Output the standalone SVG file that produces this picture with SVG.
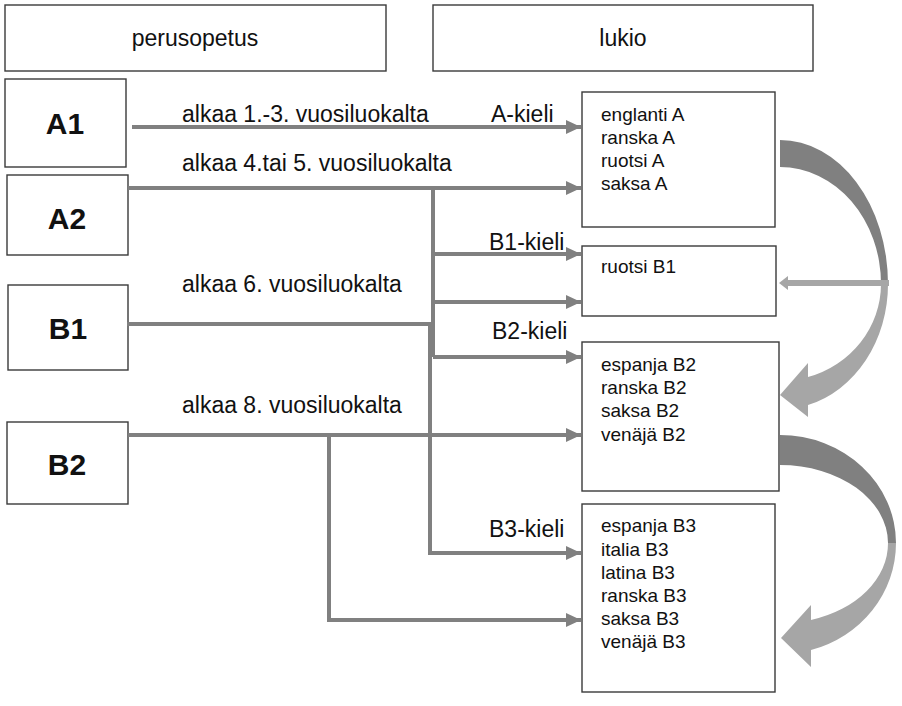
<svg xmlns="http://www.w3.org/2000/svg" width="902" height="706" viewBox="0 0 902 706">
<style>
.box{fill:#fff;stroke:#3a3a3a;stroke-width:1.4}
.t{font-family:"Liberation Sans",Arial,sans-serif;fill:#111}
.lab{font-size:23px}
.big{font-size:30px;font-weight:bold;text-anchor:middle}
.small{font-size:19px}
.con{fill:none;stroke:#808080;stroke-width:4}
</style>
<defs>
<marker id="ah" markerUnits="userSpaceOnUse" markerWidth="16" markerHeight="16" refX="15" refY="7" orient="auto">
<path d="M0,0 L15,7 L0,14 Z" fill="#808080"/>
</marker>
</defs>
<rect width="902" height="706" fill="#fff"/>

<g id="perusopetus"><rect class="box" x="5" y="5" width="381" height="66"/><text class="t lab" x="195" y="46" text-anchor="middle">perusopetus</text></g>
<g id="lukio"><rect class="box" x="433" y="5" width="380" height="66"/><text class="t lab" x="623" y="46" text-anchor="middle">lukio</text></g>

<g id="A1"><rect class="box" x="5" y="79" width="121" height="88"/><text class="t big" x="65" y="134">A1</text></g>
<g id="A2"><rect class="box" x="7" y="175" width="121" height="80"/><text class="t big" x="67" y="229">A2</text></g>
<g id="B1"><rect class="box" x="8" y="285" width="120" height="85"/><text class="t big" x="68" y="339">B1</text></g>
<g id="B2"><rect class="box" x="7" y="422" width="121" height="82"/><text class="t big" x="67" y="475">B2</text></g>

<g id="Akieli"><rect class="box" x="582" y="92" width="193" height="135"/>
<text class="t small" x="601" y="121">englanti A</text>
<text class="t small" x="601" y="144">ranska A</text>
<text class="t small" x="601" y="167">ruotsi A</text>
<text class="t small" x="601" y="190">saksa A</text></g>
<g id="B1kieli"><rect class="box" x="582" y="246" width="194" height="70"/>
<text class="t small" x="601" y="273">ruotsi B1</text></g>
<g id="B2kieli"><rect class="box" x="582" y="342" width="197" height="149"/>
<text class="t small" x="601" y="371">espanja B2</text>
<text class="t small" x="601" y="394">ranska B2</text>
<text class="t small" x="601" y="417">saksa B2</text>
<text class="t small" x="601" y="441">venäjä B2</text></g>
<g id="B3kieli"><rect class="box" x="582" y="504" width="193" height="188"/>
<text class="t small" x="601" y="532">espanja B3</text>
<text class="t small" x="601" y="556">italia B3</text>
<text class="t small" x="601" y="579">latina B3</text>
<text class="t small" x="601" y="602">ranska B3</text>
<text class="t small" x="601" y="625">saksa B3</text>
<text class="t small" x="601" y="648">venäjä B3</text></g>

<g id="connectors">
<path class="con" d="M132,127 H581" marker-end="url(#ah)"/>
<path class="con" d="M128,188 H581" marker-end="url(#ah)"/>
<path class="con" d="M433,188 V357"/>
<path class="con" d="M433,254 H581" marker-end="url(#ah)"/>
<path class="con" d="M433,302 H581" marker-end="url(#ah)"/>
<path class="con" d="M433,357 H581" marker-end="url(#ah)"/>
<path class="con" d="M127,324 H430 V553 H581" marker-end="url(#ah)"/>
<path class="con" d="M128,435 H581" marker-end="url(#ah)"/>
<path class="con" d="M329,435 V620 H581" marker-end="url(#ah)"/>
<!-- curved arrow 1 -->
<path d="M780,140 A108,144 0 0 1 888,284 L881,284 A101,117 0 0 0 780,167 Z" fill="#808080"/>
<path d="M888,284 A108,125 0 0 1 808,405 L808,417 L780,395 L808,363 L808,377 A101,97 0 0 0 881,284 Z" fill="#a6a6a6"/>
<path d="M889,283 H788" fill="none" stroke="#a6a6a6" stroke-width="6"/>
<path d="M779,283 L788,276 L788,290 Z" fill="#a6a6a6"/>
<!-- curved arrow 2 -->
<path d="M780,435 A116,108 0 0 1 896,543 L888,543 A108,78 0 0 0 780,465 Z" fill="#808080"/>
<path d="M896,543 A116,111 0 0 1 811,650 L811,667 L781,638 L811,605 L811,620 A108,80 0 0 0 888,543 Z" fill="#a6a6a6"/>
</g>

<g id="labels">
<text class="t lab" x="182" y="122">alkaa 1.-3. vuosiluokalta</text>
<text class="t lab" x="491" y="122">A-kieli</text>
<text class="t lab" x="182" y="171">alkaa 4.tai 5. vuosiluokalta</text>
<text class="t lab" x="489" y="250">B1-kieli</text>
<text class="t lab" x="182" y="292">alkaa 6. vuosiluokalta</text>
<text class="t lab" x="492" y="339">B2-kieli</text>
<text class="t lab" x="182" y="413">alkaa 8. vuosiluokalta</text>
<text class="t lab" x="489" y="537">B3-kieli</text>
</g>
</svg>
